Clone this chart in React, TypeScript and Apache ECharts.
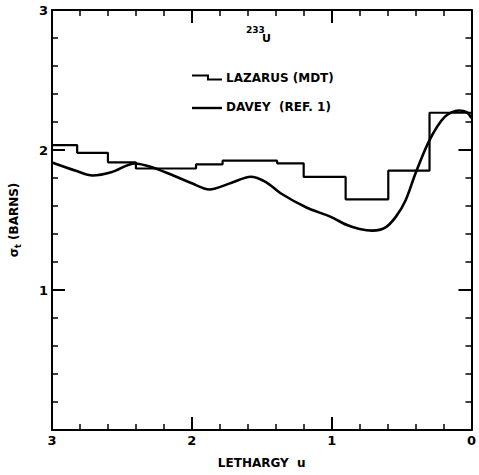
import React, { useEffect, useRef } from "react";
import * as echarts from "echarts";

// Lazarus (MDT) group cross sections: bin edges (lethargy) and values (barns)
const lazarusEdges = [3, 2.82, 2.6, 2.4, 1.97, 1.78, 1.39, 1.2, 0.9, 0.595, 0.3, 0];
const lazarusValues = [2.035, 1.98, 1.912, 1.868, 1.898, 1.924, 1.905, 1.808, 1.648, 1.852, 2.266];

// Davey (Ref. 1) curve
const daveyU = [3.0, 2.83, 2.71, 2.57, 2.41, 2.29, 2.14, 2.0, 1.875, 1.72, 1.58, 1.47, 1.365, 1.18, 1.01, 0.89, 0.8, 0.71, 0.62, 0.54, 0.47, 0.4, 0.3, 0.19, 0.09, 0.035, 0];
const daveySigma = [1.911, 1.852, 1.818, 1.843, 1.904, 1.879, 1.821, 1.762, 1.718, 1.764, 1.809, 1.771, 1.691, 1.589, 1.524, 1.464, 1.436, 1.424, 1.443, 1.524, 1.643, 1.834, 2.071, 2.238, 2.282, 2.271, 2.229];

const xTicks = [0, 1, 2, 3];
const yTicks = [1, 2, 3];

const FONT = "DejaVu Sans";

export default function App() {
  const ref = useRef<HTMLDivElement>(null);
  useEffect(() => {
    if (!ref.current) return;
    const chart = echarts.init(ref.current, null, { renderer: "svg" });
    const lazData: number[][] = lazarusValues.map((v, i) => [lazarusEdges[i], v]);
    lazData.push([lazarusEdges[lazarusEdges.length - 1], lazarusValues[lazarusValues.length - 1]]);
    const davData = daveyU.map((u, i) => [u, daveySigma[i]]);
    const axisLine = { show: true, onZero: false, lineStyle: { color: "#000", width: 2 } };
    const tickCommon = {
      show: true,
      inside: true,
      length: 13,
      lineStyle: { color: "#000", width: 2 },
    };
    const minorCommon = {
      show: true,
      splitNumber: 5,
      length: 6,
      lineStyle: { color: "#000", width: 1.5 },
    };
    chart.setOption({
      animation: false,
      backgroundColor: "#fff",
      grid: { left: 49, right: 6, top: 10, bottom: 45, containLabel: false },
      xAxis: [
        {
          type: "value",
          min: 0,
          max: 3,
          interval: 1,
          inverse: true,
          position: "bottom",
          axisLine,
          axisTick: tickCommon,
          minorTick: minorCommon,
          splitLine: { show: false },
          axisLabel: {
            show: true,
            margin: 4,
            color: "#000",
            fontFamily: FONT,
            fontWeight: "bold",
            fontSize: 13,
            formatter: (v: number) => (xTicks.includes(v) ? String(v) : ""),
          },
          name: "LETHARGY  u",
          nameLocation: "middle",
          nameGap: 27,
          nameTextStyle: { color: "#000", fontFamily: FONT, fontWeight: "bold", fontSize: 12 },
        },
        {
          type: "value",
          min: 0,
          max: 3,
          interval: 1,
          inverse: true,
          position: "top",
          axisLine,
          axisTick: tickCommon,
          minorTick: minorCommon,
          splitLine: { show: false },
          axisLabel: { show: false },
        },
      ],
      yAxis: [
        {
          type: "value",
          min: 0,
          max: 3,
          interval: 1,
          position: "left",
          axisLine,
          axisTick: tickCommon,
          minorTick: minorCommon,
          splitLine: { show: false },
          axisLabel: {
            show: true,
            margin: 4,
            color: "#000",
            fontFamily: FONT,
            fontWeight: "bold",
            fontSize: 13,
            formatter: (v: number) => (yTicks.includes(v) ? String(v) : ""),
          },
          name: "{a|σ}{b|t}{a| (BARNS)}",
          nameLocation: "middle",
          nameGap: 30,
          nameTextStyle: {
            color: "#000",
            fontFamily: FONT,
            fontWeight: "bold",
            fontSize: 12,
            rich: {
              a: { color: "#000", fontFamily: FONT, fontWeight: "bold", fontSize: 12 },
              b: { color: "#000", fontFamily: FONT, fontWeight: "bold", fontSize: 8, padding: [8, 0, 0, 0] },
            },
          },
        },
        {
          type: "value",
          min: 0,
          max: 3,
          interval: 1,
          position: "right",
          axisLine,
          axisTick: tickCommon,
          minorTick: minorCommon,
          splitLine: { show: false },
          axisLabel: { show: false },
        },
      ],
      series: [
        {
          name: "LAZARUS (MDT)",
          type: "line",
          xAxisIndex: 0,
          yAxisIndex: 0,
          step: "end",
          data: lazData,
          showSymbol: false,
          symbol: "none",
          lineStyle: { color: "#000", width: 2.2 },
        },
        {
          name: "DAVEY (REF. 1)",
          type: "line",
          xAxisIndex: 0,
          yAxisIndex: 0,
          smooth: 0.3,
          data: davData,
          showSymbol: false,
          symbol: "none",
          lineStyle: { color: "#000", width: 2.6 },
        },
      ],
      graphic: [
        {
          type: "text",
          left: 246,
          top: 25,
          style: { text: "233", fill: "#000", font: `bold 9px "${FONT}"` },
        },
        {
          type: "text",
          left: 262,
          top: 33,
          style: { text: "U", fill: "#000", font: `bold 11px "${FONT}"` },
        },
        {
          type: "polyline",
          shape: { points: [[192, 75.5], [208, 75.5], [208, 79.5], [222, 79.5]] },
          style: { stroke: "#000", lineWidth: 2, fill: "none" },
        },
        {
          type: "text",
          left: 226,
          top: 72,
          style: { text: "LAZARUS (MDT)", fill: "#000", font: `bold 12px "${FONT}"` },
        },
        {
          type: "line",
          shape: { x1: 192, y1: 108, x2: 222, y2: 108 },
          style: { stroke: "#000", lineWidth: 2.4 },
        },
        {
          type: "text",
          left: 226,
          top: 101,
          style: { text: "DAVEY  (REF. 1)", fill: "#000", font: `bold 12px "${FONT}"` },
        },
      ],
    });
    return () => chart.dispose();
  }, []);
  return (
    <div
      ref={ref}
      style={{ position: "fixed", left: 0, top: 0, width: 479, height: 475, background: "#fff" }}
    />
  );
}
